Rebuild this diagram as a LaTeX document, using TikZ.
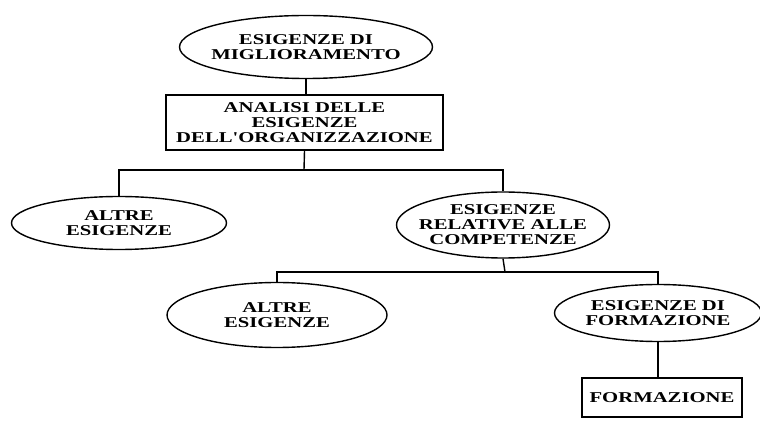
\documentclass[tikz,border=0pt]{standalone}
\usepackage{fontspec}
\newfontfamily\scanfont{Liberation Serif Bold}[FakeStretch=1.38]
\usetikzlibrary{shapes.geometric}
\tikzset{
  txt/.style={align=center,inner sep=0pt,font=\scanfont\fontsize{15}{15}\selectfont},
  bubble/.style={ellipse,draw,line width=1.4pt,inner sep=0pt},
  panel/.style={rectangle,draw,line width=1.4pt,inner sep=0pt,txt},
  link/.style={line width=1.4pt}
}
\begin{document}
\begin{tikzpicture}[x=1pt,y=-1pt]
        \useasboundingbox (0,0) rectangle (760,427);
        %% Top
        \node[bubble,minimum width=253,minimum height=63,
          label={[txt]center:ESIGENZE DI\\MIGLIORAMENTO}] (need) at (306,47) {};
        \node[panel,minimum width=277,minimum height=55] (anal) at (304.5,122.5)
          {ANALISI DELLE\\ESIGENZE\\DELL'ORGANIZZAZIONE};
        %% First level
        \node[bubble,minimum width=215,minimum height=53,
          label={[txt]center:ALTRE\\ESIGENZE}] (other1) at (119,223) {};
        \node[bubble,minimum width=213,minimum height=66,
          label={[txt]center:ESIGENZE\\RELATIVE ALLE\\COMPETENZE}] (comp) at (503,225) {};
        %% Second level
        \node[bubble,minimum width=220,minimum height=65,
          label={[txt]center:ALTRE\\ESIGENZE}] (other2) at (277,315) {};
        \node[bubble,minimum width=207,minimum height=57,
          label={[txt]center:ESIGENZE DI\\FORMAZIONE}] (train) at (658,313) {};
        \node[panel,minimum width=160,minimum height=39] (tbox) at (662,397.5) {FORMAZIONE};
        %% Lines
        \coordinate (j1) at (304,170);
        \coordinate (j2) at (505,272);
        \draw[link] (need.south) -- (need.south |- anal.north);
        \draw[link] (anal.south) -- (j1);
        \draw[link] (j1) -| (other1.north);
        \draw[link] (j1) -| (comp.north);
        \draw[link] (comp.south) -- (j2);
        \draw[link] (j2) -| (other2.north);
        \draw[link] (j2) -| (train.north);
        \draw[link] (train.south) -- (train.south |- tbox.north);
\end{tikzpicture}
\end{document}
